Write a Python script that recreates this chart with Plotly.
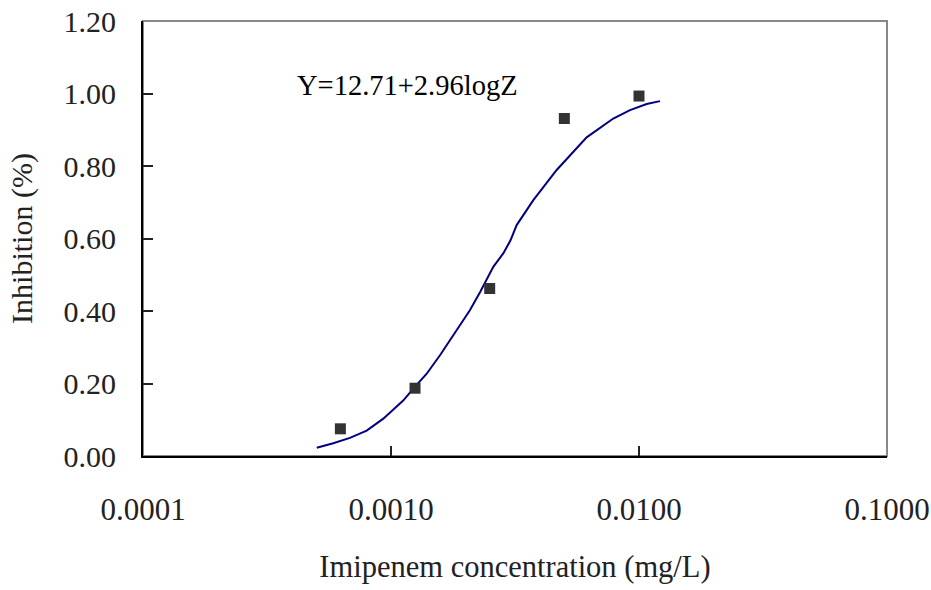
import plotly.graph_objects as go

# Observed data points
conc = [0.000625, 0.00125, 0.0025, 0.005, 0.01]
inhibition = [0.075, 0.187, 0.462, 0.931, 0.993]

# Fitted curve
curve_x = [0.000502, 0.000585, 0.000683, 0.000798, 0.000931, 0.001022, 0.00112,
           0.00123, 0.001393, 0.001576, 0.00184, 0.00208, 0.002285, 0.002585,
           0.002836, 0.003033, 0.003212, 0.003749, 0.004656, 0.005434, 0.006152,
           0.007876, 0.009199, 0.01074, 0.01215]
curve_y = [0.023, 0.035, 0.050, 0.070, 0.103, 0.128, 0.153, 0.186, 0.227, 0.278,
           0.347, 0.402, 0.452, 0.522, 0.559, 0.595, 0.637, 0.706, 0.789, 0.839,
           0.879, 0.931, 0.954, 0.971, 0.979]

x_tickvals = [0.0001, 0.001, 0.01, 0.1]
x_ticktext = ["0.0001", "0.0010", "0.0100", "0.1000"]
y_tickvals = [0.0, 0.2, 0.4, 0.6, 0.8, 1.0, 1.2]

equation = "Y=12.71+2.96logZ"
x_title = "Imipenem concentration (mg/L)"
y_title = "Inhibition (%)"

FONT = "Liberation Serif, Times New Roman, serif"

fig = go.Figure()
fig.add_trace(go.Scatter(x=curve_x, y=curve_y, mode="lines",
                         line=dict(color="#000080", width=2), showlegend=False,
                         hoverinfo="skip"))
fig.add_trace(go.Scatter(x=conc, y=inhibition, mode="markers",
                         marker=dict(symbol="square", size=11, color="#333333"),
                         showlegend=False))

fig.add_annotation(x=-3.387, y=1.023, xref="x", yref="y", text=equation,
                   showarrow=False, xanchor="left", yanchor="middle",
                   font=dict(family=FONT, size=28.5, color="black"))

# plot frame (gray top/right)
fig.add_shape(type="rect", xref="paper", yref="paper", x0=0, y0=0, x1=1, y1=1,
              line=dict(color="#888888", width=2), layer="below")

fig.update_layout(
    width=931, height=590,
    margin=dict(l=143, r=44, t=21, b=134, autoexpand=False),
    paper_bgcolor="white", plot_bgcolor="white",
    font=dict(family=FONT, size=30, color="#222222"),
    xaxis=dict(type="log", range=[-4, -1], tickvals=x_tickvals, ticktext=x_ticktext,
               ticks="inside", ticklen=10, tickwidth=1.5, tickcolor="#222222",
               showline=True, linecolor="black", linewidth=2, showgrid=False,
               zeroline=False, ticklabelstandoff=25, automargin=False,
               tickfont=dict(size=31),
               title=dict(text=x_title, font=dict(size=30.5), standoff=29)),
    yaxis=dict(range=[0, 1.2], tickvals=y_tickvals, tickformat=".2f",
               ticks="inside", ticklen=10, tickwidth=1.5, tickcolor="#222222",
               showline=True, linecolor="black", linewidth=2, showgrid=False,
               zeroline=False, ticklabelstandoff=19, automargin=False,
               title=dict(text=y_title, font=dict(size=30), standoff=22)),
)

fig.write_html("out.html")
